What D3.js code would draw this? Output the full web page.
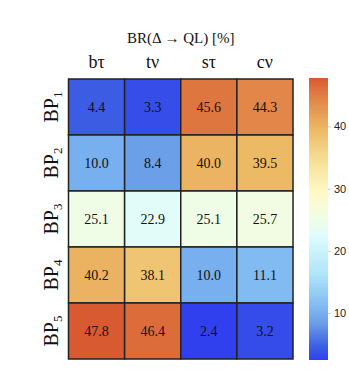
<html lang="en">
<head>
  <meta charset="utf-8" />
  <script src="https://d3js.org/d3.v7.min.js"></script>
  <style>
    body { margin: 0; background: #fff; }
  </style>
</head>
<body>
  <div id="chart"></div>
  <script>
    'use strict';
    const width = 349;
    const height = 385;

    // data
    const channels = ["bτ", "tν", "sτ", "cν"];
    const benchmarks = ["1", "2", "3", "4", "5"];
    const bp1 = [4.4, 3.3, 45.6, 44.3];
    const bp2 = [10.0, 8.4, 40.0, 39.5];
    const bp3 = [25.1, 22.9, 25.1, 25.7];
    const bp4 = [40.2, 38.1, 10.0, 11.1];
    const bp5 = [47.8, 46.4, 2.4, 3.2];
    const rows = [bp1, bp2, bp3, bp4, bp5];
    const cbTicks = [10, 20, 30, 40];

    const cells = [];
    rows.forEach((r, i) => r.forEach((v, j) => cells.push({ row: i, col: j, value: v })));

    const vmin = 2.4, vmax = 47.8;
    const stops = [
      [0.0, "#3040ee"],
      [0.05, "#3e60e2"],
      [0.13, "#6a9ee8"],
      [0.19, "#80baf2"],
      [0.30, "#aee4f8"],
      [0.44, "#defcfe"],
      [0.50, "#f0fde6"],
      [0.60, "#fff8c4"],
      [0.72, "#f4dc90"],
      [0.82, "#ecb864"],
      [0.92, "#e2884a"],
      [1.0, "#d85a30"]
    ];
    const color = d3.scaleLinear()
      .domain(stops.map(s => vmin + s[0] * (vmax - vmin)))
      .range(stops.map(s => s[1]))
      .interpolate(d3.interpolateRgb);

    const svg = d3.select("#chart").append("svg")
      .attr("width", width)
      .attr("height", height);

    const x = d3.scaleBand().domain(d3.range(channels.length)).range([68.5, 293]);
    const y = d3.scaleBand().domain(d3.range(benchmarks.length)).range([79, 359]);
    const serif = "'Liberation Serif', 'Times New Roman', serif";

    // cells
    svg.append("g").selectAll("rect")
      .data(cells).join("rect")
      .attr("x", d => x(d.col))
      .attr("y", d => y(d.row))
      .attr("width", x.bandwidth())
      .attr("height", y.bandwidth())
      .attr("fill", d => color(d.value))
      .attr("stroke", "#222")
      .attr("stroke-width", 1.5);

    svg.append("g").selectAll("text")
      .data(cells).join("text")
      .attr("x", d => x(d.col) + x.bandwidth() / 2)
      .attr("y", d => y(d.row) + y.bandwidth() / 2 + 5)
      .attr("text-anchor", "middle")
      .style("font-family", serif)
      .style("font-size", "14px")
      .attr("fill", "#111")
      .text(d => d.value.toFixed(1));

    // title
    svg.append("text")
      .attr("x", x.range()[0] + (x.range()[1] - x.range()[0]) / 2)
      .attr("y", 43)
      .attr("text-anchor", "middle")
      .style("font-family", serif)
      .style("font-size", "15px")
      .attr("fill", "#111")
      .text("BR(Δ → QL) [%]");

    // column labels
    svg.append("g").selectAll("text")
      .data(channels).join("text")
      .attr("x", (d, i) => x(i) + x.bandwidth() / 2)
      .attr("y", 68)
      .attr("text-anchor", "middle")
      .style("font-family", serif)
      .style("font-size", "18px")
      .attr("fill", "#111")
      .text(d => d);

    // row labels
    const rl = svg.append("g").selectAll("text")
      .data(benchmarks).join("text")
      .attr("transform", (d, i) => `translate(58, ${y(i) + y.bandwidth() / 2}) rotate(-90)`)
      .attr("text-anchor", "middle")
      .style("font-family", serif)
      .style("font-size", "20px")
      .attr("fill", "#111");
    rl.append("tspan").text("BP");
    rl.append("tspan").attr("dy", 4).style("font-size", "13px").text(d => d);

    // colorbar
    const cbX = 309, cbW = 19;
    const cbScale = d3.scaleLinear().domain([vmin, vmax]).range([360, 78]);
    const defs = svg.append("defs");
    const grad = defs.append("linearGradient")
      .attr("id", "cbgrad")
      .attr("x1", 0).attr("y1", 1).attr("x2", 0).attr("y2", 0);
    grad.selectAll("stop")
      .data(stops).join("stop")
      .attr("offset", d => d[0])
      .attr("stop-color", d => d[1]);
    svg.append("rect")
      .attr("x", cbX).attr("y", cbScale(vmax))
      .attr("width", cbW).attr("height", cbScale(vmin) - cbScale(vmax))
      .attr("fill", "url(#cbgrad)");

    const axis = svg.append("g")
      .attr("transform", `translate(${cbX + cbW}, 0)`)
      .call(d3.axisRight(cbScale).tickValues(cbTicks).tickSize(3).tickPadding(3));
    axis.select(".domain").remove();
    axis.selectAll("line").attr("stroke", "#ccc");
    axis.selectAll("text")
      .style("font-family", "'Liberation Sans', Arial, sans-serif")
      .style("font-size", "11px")
      .attr("fill", "#222");
  </script>
</body>
</html>
